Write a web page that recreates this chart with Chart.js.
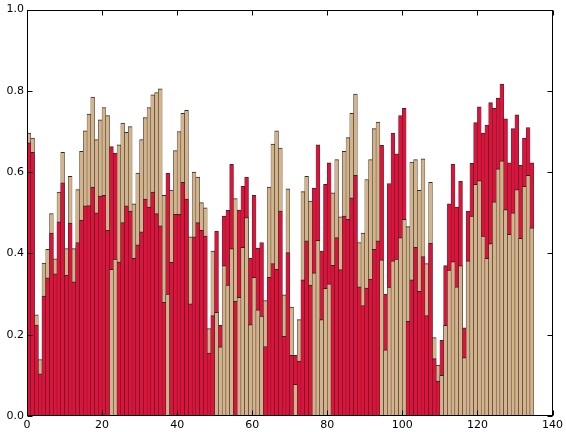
<!DOCTYPE html>
<html><head><meta charset="utf-8">
<script src="https://cdn.jsdelivr.net/npm/chart.js@4"></script>
<style>html,body{margin:0;padding:0;background:#fff;}#wrap{width:566px;height:432px;}</style>
</head><body><div id="wrap"><canvas id="c" width="566" height="432"></canvas></div>
<script>
const crimsonValues = [
0.672,0.649,0.224,0.104,0.295,0.340,0.450,0.350,0.478,0.574,
0.346,0.475,0.330,0.427,0.482,0.517,0.518,0.563,0.500,0.541,
0.543,0.457,0.663,0.647,0.379,0.476,0.517,0.504,0.388,0.421,
0.453,0.534,0.514,0.551,0.498,0.468,0.280,0.598,0.378,0.496,
0.496,0.575,0.534,0.276,0.441,0.476,0.457,0.443,0.155,0.247,
0.455,0.223,0.492,0.506,0.619,0.282,0.507,0.565,0.588,0.388,
0.543,0.413,0.427,0.171,0.341,0.375,0.361,0.504,0.196,0.402,
0.149,0.149,0.135,0.335,0.431,0.322,0.561,0.667,0.406,0.570,
0.623,0.371,0.439,0.360,0.492,0.484,0.537,0.592,0.318,0.272,
0.315,0.337,0.410,0.431,0.666,0.300,0.572,0.696,0.645,0.739,
0.757,0.233,0.335,0.415,0.307,0.392,0.247,0.425,0.141,0.086,
0.186,0.370,0.522,0.620,0.514,0.578,0.217,0.504,0.622,0.722,
0.761,0.696,0.716,0.771,0.757,0.782,0.817,0.731,0.623,0.707,
0.741,0.617,0.684,0.710,0.623];
const tanValues = [
0.696,0.684,0.249,0.139,0.376,0.410,0.498,0.387,0.551,0.649,
0.412,0.590,0.412,0.557,0.651,0.702,0.743,0.785,0.680,0.729,
0.759,0.739,0.361,0.386,0.667,0.721,0.698,0.712,0.522,0.598,
0.680,0.734,0.759,0.790,0.796,0.805,0.543,0.300,0.556,0.653,
0.700,0.745,0.752,0.441,0.600,0.588,0.525,0.512,0.215,0.406,
0.255,0.170,0.370,0.322,0.412,0.535,0.292,0.415,0.488,0.225,
0.341,0.261,0.246,0.284,0.563,0.669,0.702,0.659,0.298,0.559,
0.268,0.078,0.237,0.552,0.590,0.529,0.352,0.432,0.237,0.314,
0.325,0.549,0.631,0.490,0.651,0.685,0.745,0.792,0.427,0.450,
0.582,0.631,0.707,0.723,0.384,0.163,0.317,0.382,0.386,0.439,
0.484,0.466,0.625,0.631,0.555,0.633,0.375,0.575,0.193,0.125,
0.100,0.223,0.359,0.380,0.318,0.370,0.144,0.382,0.492,0.570,
0.579,0.443,0.388,0.424,0.527,0.608,0.628,0.508,0.447,0.500,
0.557,0.437,0.565,0.592,0.463];
const xTickValues = [0,20,40,60,80,100,120,140];
const yTickValues = [0.0,0.2,0.4,0.6,0.8,1.0];
const CRIMSON = '#DC143C';
const TAN = '#D2B48C';

// taller bar of each pair is drawn behind, shorter in front
const backData = [], frontData = [], backColors = [], frontColors = [];
crimsonValues.forEach((c, i) => {
  const t = tanValues[i];
  const x = i + 0.5;
  if (c >= t) {
    backData.push({x: x, y: c}); backColors.push(CRIMSON);
    frontData.push({x: x, y: t}); frontColors.push(TAN);
  } else {
    backData.push({x: x, y: t}); backColors.push(TAN);
    frontData.push({x: x, y: c}); frontColors.push(CRIMSON);
  }
});

const EDGE = 'rgba(45,30,30,0.95)';
const barStyle = {
  barPercentage: 1.0, categoryPercentage: 1.0, grouped: false,
  borderColor: EDGE, borderWidth: {top: 1, left: 0.5, right: 0.5, bottom: 0},
  borderSkipped: false
};

const framePlugin = {
  id: 'frame',
  afterDatasetsDraw(chart) {
    const ctx = chart.ctx, a = chart.chartArea, xs = chart.scales.x, ys = chart.scales.y;
    ctx.save();
    ctx.strokeStyle = '#000';
    ctx.lineWidth = 1;
    ctx.beginPath();
    const L = Math.round(a.left) + 0.5, R = Math.round(a.right) - 0.5;
    const T = Math.round(a.top) + 0.5, B = Math.round(a.bottom) - 0.5;
    xTickValues.forEach(v => {
      const px = Math.round(xs.getPixelForValue(v)) + 0.5;
      ctx.moveTo(px, B); ctx.lineTo(px, B - 5);
      ctx.moveTo(px, T); ctx.lineTo(px, T + 5);
    });
    yTickValues.forEach(v => {
      const py = Math.round(ys.getPixelForValue(v)) + 0.5;
      ctx.moveTo(L, py); ctx.lineTo(L + 5, py);
      ctx.moveTo(R, py); ctx.lineTo(R - 5, py);
    });
    ctx.stroke();
    ctx.strokeRect(L, T, R - L, B - T);
    ctx.restore();
  }
};

const tickFont = {family: 'DejaVu Sans', size: 11};

new Chart(document.getElementById('c'), {
  type: 'bar',
  data: {
    datasets: [
      Object.assign({label: 'front', data: frontData, backgroundColor: frontColors, order: 0}, barStyle),
      Object.assign({label: 'back', data: backData, backgroundColor: backColors, order: 1}, barStyle)
    ]
  },
  options: {
    responsive: false,
    animation: false,
    devicePixelRatio: 1,
    layout: {padding: {top: 8, right: 12, left: 0, bottom: 0}},
    plugins: {legend: {display: false}, tooltip: {enabled: false}},
    scales: {
      x: {
        type: 'linear', min: 0, max: 140, offset: false,
        grid: {display: false, drawTicks: false}, border: {display: false},
        ticks: {font: tickFont, color: '#000', padding: 3, maxRotation: 0, autoSkip: false},
        afterBuildTicks: s => { s.ticks = xTickValues.map(v => ({value: v})); },
        afterFit: s => { s.height = 16; }
      },
      y: {
        type: 'linear', min: 0, max: 1,
        grid: {display: false, drawTicks: false}, border: {display: false},
        ticks: {font: tickFont, color: '#000', padding: 3, callback: v => Number(v).toFixed(1)},
        afterBuildTicks: s => { s.ticks = yTickValues.map(v => ({value: v})); },
        afterFit: s => { s.width = 27; }
      }
    }
  },
  plugins: [framePlugin]
});
</script></body></html>
